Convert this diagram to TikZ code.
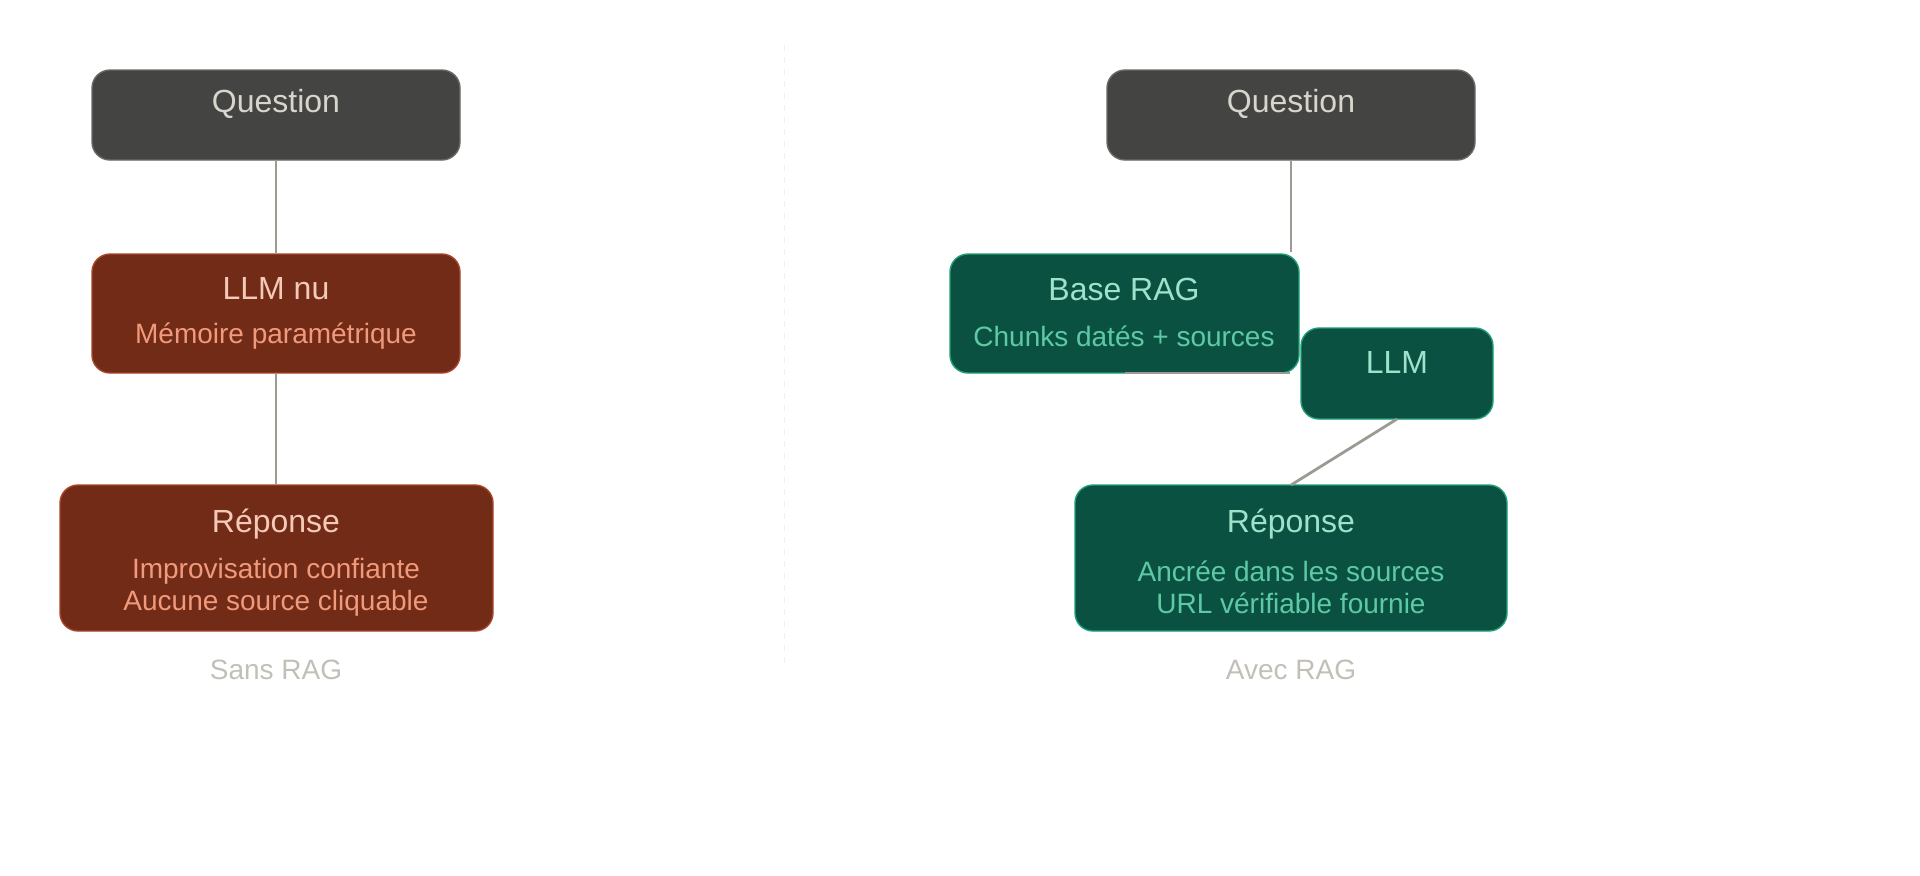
\documentclass[tikz,border=0pt]{standalone}
\usepackage{fontspec}
\setmainfont{Liberation Sans}
\usetikzlibrary{positioning}
\definecolor{qfill}{HTML}{444442}
\definecolor{qtext}{HTML}{D8D5CC}
\definecolor{rfill}{HTML}{712B16}
\definecolor{rdraw}{HTML}{A8452A}
\definecolor{rtitle}{HTML}{F5C9B8}
\definecolor{rsub}{HTML}{F0997B}
\definecolor{gfill}{HTML}{0A5142}
\definecolor{gdraw}{HTML}{1D9E75}
\definecolor{gtitle}{HTML}{9FE1CB}
\definecolor{gsub}{HTML}{5DCAA5}
\definecolor{link}{HTML}{9C9A92}
\definecolor{cap}{HTML}{C2C0B6}
\tikzset{
  box/.style = {draw, rounded corners=9pt, line width=0.7pt},
  qbox/.style = {box, fill=qfill, draw=qfill!80!white},
  rbox/.style = {box, fill=rfill, draw=rdraw},
  gbox/.style = {box, fill=gfill, draw=gdraw},
  wire/.style = {draw=link, line width=1.4pt},
  ttl/.style = {font=\fontsize{16}{19}\selectfont},
  sub/.style = {font=\fontsize{14}{16}\selectfont, align=center},
}
\begin{document}
\begin{tikzpicture}[x=0.5pt, y=-0.5pt]
\useasboundingbox (0,0) rectangle (1920,875);
\draw[link!15, dashed, line width=0.4pt] (784,45) -- (784,665);
% left : sans RAG
\draw[qbox] (92,70) rectangle (460,160);
\draw[rbox] (92,254) rectangle (460,373);
\draw[rbox] (60,485) rectangle (493,631);
\node[ttl, text=qtext] (q1) at (276,104) {Question};
\node[ttl, text=rtitle] (llm1) at (276,289) {LLM nu};
\node[sub, text=rsub] (mem) at (276,336) {Mémoire paramétrique};
\node[ttl, text=rtitle] (rep1) at (276,524) {Réponse};
\node[sub, text=rsub] (imp) at (276,587) {Improvisation confiante\\Aucune source cliquable};
\node[text=cap, font=\fontsize{14}{16}\selectfont] (sans) at (276,670) {Sans RAG};
\coordinate (a1) at (276,160);
\coordinate (a2) at (276,254);
\coordinate (a3) at (276,373);
\coordinate (a4) at (276,485);
\draw[wire] (a1) -- (a2);
\draw[wire] (a3) -- (a4);
% right : avec RAG
\draw[qbox] (1107,70) rectangle (1475,160);
\draw[gbox] (950,254) rectangle (1299,373);
\draw[gbox] (1301,328) rectangle (1493,419);
\draw[gbox] (1075,485) rectangle (1507,631);
\node[ttl, text=qtext] (q2) at (1291,104) {Question};
\node[ttl, text=gtitle] (base) at (1124,289) {Base RAG};
\node[sub, text=gsub] (chunks) at (1124,336) {Chunks datés + sources};
\node[ttl, text=gtitle] (llm2) at (1397,362) {LLM};
\node[ttl, text=gtitle] (rep2) at (1291,524) {Réponse};
\node[sub, text=gsub] (anc) at (1291,587) {Ancrée dans les sources\\URL vérifiable fournie};
\node[text=cap, font=\fontsize{14}{16}\selectfont] (avec) at (1291,670) {Avec RAG};
\coordinate (b1) at (1291,160);
\coordinate (b2) at (1291,252);
\coordinate (b3) at (1125,373);
\coordinate (b4) at (1290,373);
\coordinate (b5) at (1397,419);
\coordinate (b6) at (1291,485);
\draw[wire] (b1) -- (b2);
\draw[wire] (b3) -- (b4);
\draw[wire] (b5) -- (b6);
\end{tikzpicture}
\end{document}
